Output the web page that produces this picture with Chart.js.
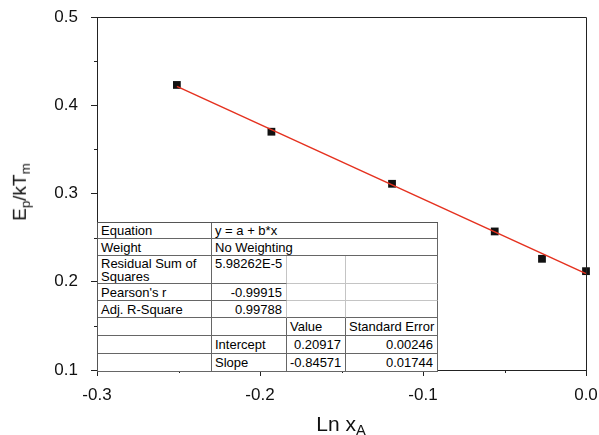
<!DOCTYPE html>
<html>
<head>
<meta charset="utf-8">
<title>Ep/kTm vs Ln xA</title>
<script src="https://cdn.jsdelivr.net/npm/chart.js@4.4.1/dist/chart.umd.min.js"></script>
<style>
  body { margin: 0; background: #fff; }
  #wrap { position: relative; width: 599px; height: 435px; }
  #fitChart { position: absolute; left: 0; top: 0; }
  .axisTitle { position: absolute; font-family: "Liberation Sans", Arial, sans-serif; color: #111; white-space: nowrap; line-height: 1; }
  .axisTitle sub { font-size: 70%; vertical-align: -0.3em; }
  #yTitle { left: 21px; top: 192px; font-size: 19px; transform: translate(-50%, -50%) rotate(-90deg); }
  #xTitle { left: 341px; top: 413px; font-size: 21px; transform: translateX(-50%); }
  #fitTable { position: absolute; left: 97px; top: 222px; width: 341px; border-spacing: 0; table-layout: fixed;
    border-top: 1px solid #555; border-left: 1px solid #555; background: #fff; }
  #fitTable td { box-sizing: border-box; padding: 0 4px 0 3px; font: 13px "Liberation Sans", Arial, sans-serif; color: #000;
    line-height: 13px; border-right: 1px solid #666; border-bottom: 1px solid #666; white-space: nowrap; overflow: hidden; vertical-align: middle; }
  #fitTable td.r { text-align: right; }
  #fitTable td.top { vertical-align: top; padding-top: 1px; }
  #fitTable td.wrap { white-space: normal; }
  #fitTable td.lr { border-right-color: #c4c4c4; }
  #fitTable td.lb { border-bottom-color: #c4c4c4; }
</style>
</head>
<body>
<div id="wrap">
  <canvas id="fitChart" width="599" height="435"></canvas>
  <div id="yTitle" class="axisTitle">E<sub>p</sub>/kT<sub>m</sub></div>
  <div id="xTitle" class="axisTitle">Ln x<sub>A</sub></div>
  <table id="fitTable"></table>
</div>
<script>
// Số liệu đo
const lnX = [-0.251, -0.193, -0.119, -0.056, -0.027, 0.0];
const epKtm = [0.423, 0.370, 0.311, 0.257, 0.226, 0.212];

// Vạch chia trục
const xTicks = [-0.3, -0.2, -0.1, 0.0];
const yTicks = [0.1, 0.2, 0.3, 0.4, 0.5];
const xMinorTicks = [-0.25, -0.15, -0.05];
const yMinorTicks = [0.15, 0.25, 0.35, 0.45];

// Kết quả hồi quy tuyến tính y = a + b*x
const fitIntercept = 0.20917;
const fitSlope = -0.84571;
const fitInterceptErr = 0.00246;
const fitSlopeErr = 0.01744;
const fitStats = [
  ['Equation', 'y = a + b*x'],
  ['Weight', 'No Weighting'],
  ['Residual Sum of Squares', '5.98262E-5'],
  ["Pearson's r", '-0.99915'],
  ['Adj. R-Square', '0.99788']
];
const rowHeights = [16, 17, 27, 17, 17, 18, 18, 18];

// Đường thẳng khớp: tính từ hệ số a, b trong bảng
const fitX = [lnX[0], lnX[lnX.length - 1]];
const fitLine = fitX.map(x => ({ x: x, y: fitIntercept + fitSlope * x }));

// Hàm dựng bảng thông số hồi quy
function buildFitTable() {
  const rows = [];
  rows.push('<colgroup><col style="width:114px"><col style="width:75px"><col style="width:59px"><col style="width:92px"></colgroup>');
  rows.push(`<tr><td>${fitStats[0][0]}</td><td colspan="3">${fitStats[0][1]}</td></tr>`);
  rows.push(`<tr><td>${fitStats[1][0]}</td><td colspan="3">${fitStats[1][1]}</td></tr>`);
  rows.push(`<tr><td class="top wrap">${fitStats[2][0]}</td><td class="top r lr">${fitStats[2][1]}</td><td class="lr lb"></td><td class="lb"></td></tr>`);
  rows.push(`<tr><td>${fitStats[3][0]}</td><td class="r lr">${fitStats[3][1]}</td><td class="lr lb"></td><td class="lb"></td></tr>`);
  rows.push(`<tr><td>${fitStats[4][0]}</td><td class="r lr">${fitStats[4][1]}</td><td class="lr"></td><td></td></tr>`);
  rows.push('<tr><td></td><td></td><td>Value</td><td>Standard Error</td></tr>');
  rows.push(`<tr><td></td><td>Intercept</td><td class="r">${fitIntercept.toFixed(5)}</td><td class="r">${fitInterceptErr.toFixed(5)}</td></tr>`);
  rows.push(`<tr><td></td><td>Slope</td><td class="r">${fitSlope.toFixed(5)}</td><td class="r">${fitSlopeErr.toFixed(5)}</td></tr>`);

  const table = document.getElementById('fitTable');
  table.innerHTML = rows.join('');
  const trs = table.querySelectorAll('tr');
  trs.forEach((tr, i) => {
    tr.querySelectorAll('td').forEach(td => { td.style.height = rowHeights[i] + 'px'; });
  });
}

// Plugin vẽ khung, vạch chia phụ
const frameAndMinorTicks = {
  id: 'frameAndMinorTicks',
  afterDatasetsDraw(chart) {
    const ctx = chart.ctx;
    const area = chart.chartArea;
    const xs = chart.scales.x;
    const ys = chart.scales.y;
    ctx.save();
    ctx.strokeStyle = '#222';
    ctx.lineWidth = 1;
    ctx.beginPath();
    ctx.moveTo(area.left, area.top + 0.5);
    ctx.lineTo(area.right + 0.5, area.top + 0.5);
    ctx.lineTo(area.right + 0.5, area.bottom);
    ctx.stroke();

    ctx.beginPath();
    xMinorTicks.forEach(v => {
      const px = Math.round(xs.getPixelForValue(v)) + 0.5;
      ctx.moveTo(px, area.bottom);
      ctx.lineTo(px, area.bottom + 3);
    });
    yMinorTicks.forEach(v => {
      const py = Math.round(ys.getPixelForValue(v)) + 0.5;
      ctx.moveTo(area.left - 3, py);
      ctx.lineTo(area.left, py);
    });
    ctx.stroke();
    ctx.restore();
  }
};

function renderChart() {
  const ctx = document.getElementById('fitChart').getContext('2d');
  const tickFont = { family: '"Liberation Sans", Arial, sans-serif', size: 17 };

  new Chart(ctx, {
    type: 'scatter',
    data: {
      datasets: [
        {
          label: 'Linear fit',
          data: fitLine,
          showLine: true,
          borderColor: '#e5311f',
          borderWidth: 1.5,
          pointRadius: 0,
          clip: false,
          order: 0
        },
        {
          label: 'Ep/kTm',
          data: lnX.map((x, i) => ({ x: x, y: epKtm[i] })),
          pointStyle: 'rect',
          pointRadius: 5.5,
          backgroundColor: '#111',
          borderColor: '#111',
          borderWidth: 0,
          clip: false,
          order: 1
        }
      ]
    },
    options: {
      responsive: false,
      animation: false,
      layout: { padding: { top: 17, right: 13, left: 0, bottom: 0 } },
      plugins: { legend: { display: false }, tooltip: { enabled: false } },
      scales: {
        x: {
          type: 'linear',
          min: -0.3,
          max: 0,
          afterBuildTicks: s => { s.ticks = xTicks.map(v => ({ value: v })); },
          afterFit: s => { s.height = 65; s.paddingLeft = 0; s.paddingRight = 0; },
          grid: { drawOnChartArea: false, drawTicks: true, tickLength: 6, tickColor: '#222' },
          border: { display: true, color: '#222', width: 1 },
          ticks: { color: '#111', font: tickFont, padding: 9, maxRotation: 0, callback: v => v.toFixed(1) }
        },
        y: {
          type: 'linear',
          min: 0.1,
          max: 0.5,
          afterBuildTicks: s => { s.ticks = yTicks.map(v => ({ value: v })); },
          afterFit: s => { s.width = 97; s.paddingTop = 0; s.paddingBottom = 0; },
          grid: { drawOnChartArea: false, drawTicks: true, tickLength: 6, tickColor: '#222' },
          border: { display: true, color: '#222', width: 1 },
          ticks: { color: '#111', font: tickFont, padding: 13, callback: v => v.toFixed(1) }
        }
      }
    },
    plugins: [frameAndMinorTicks]
  });
}

buildFitTable();
renderChart();
</script>
</body>
</html>
